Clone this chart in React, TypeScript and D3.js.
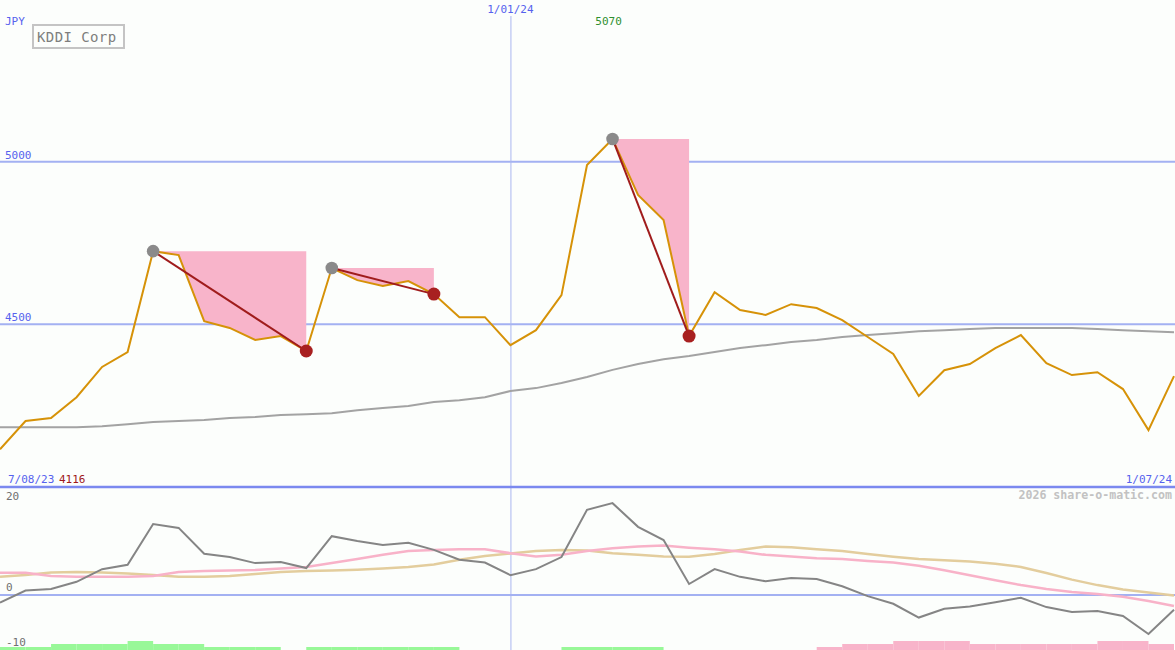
import * as d3 from 'd3'

// weekly closes, KDDI Corp (JPY)
const price = [
  4116, 4203, 4212, 4276, 4369, 4415, 4725, 4713, 4510, 4489, 4452, 4464, 4418, 4673, 4636, 4618,
  4633, 4593, 4522, 4522, 4436, 4482, 4590, 4990, 5070, 4898, 4821, 4464, 4599, 4544, 4529, 4562,
  4550, 4513, 4461, 4409, 4280, 4359, 4378, 4427, 4467, 4381, 4344, 4353, 4301, 4175, 4341,
]
// long moving average
const movingAvg = [
  4184, 4184, 4184, 4184, 4187, 4193, 4200, 4203, 4206, 4212, 4215, 4221, 4224, 4227, 4236, 4243,
  4249, 4261, 4267, 4276, 4295, 4304, 4320, 4338, 4360, 4378, 4393, 4403, 4415, 4427, 4436, 4446,
  4452, 4461, 4467, 4473, 4479, 4482, 4486, 4489, 4489, 4489, 4489, 4486, 4482, 4479, 4476,
]
// lower panel oscillator + two smoothings
const oscillator = [
  -1.4, 0.8, 1.1, 2.4, 4.7, 5.5, 12.9, 12.2, 7.5, 6.9, 5.8, 6.0, 4.9, 10.7, 9.8, 9.1, 9.5, 8.2, 6.4,
  5.9, 3.6, 4.7, 6.9, 15.5, 16.7, 12.4, 10.0, 2.0, 4.7, 3.3, 2.5, 3.1, 2.9, 1.6, -0.2, -1.6, -4.1,
  -2.5, -2.1, -1.3, -0.5, -2.2, -3.1, -2.9, -3.8, -7.1, -2.7,
]
const oscPink = [
  4.05, 4.05, 3.45, 3.3, 3.3, 3.3, 3.45, 4.2, 4.35, 4.45, 4.55, 4.8, 5.1, 5.8, 6.55, 7.3, 8.0, 8.2,
  8.3, 8.3, 7.6, 7.0, 7.3, 8.0, 8.5, 8.8, 9.0, 8.6, 8.3, 7.9, 7.3, 7.0, 6.7, 6.55, 6.2, 5.9, 5.3,
  4.5, 3.6, 2.7, 1.8, 1.1, 0.55, 0.2, -0.3, -1.1, -2.0,
]
const oscTan = [
  3.3, 3.65, 4.1, 4.2, 4.1, 3.9, 3.65, 3.3, 3.3, 3.45, 3.8, 4.2, 4.35, 4.45, 4.6, 4.8, 5.1, 5.55,
  6.4, 7.1, 7.55, 8.0, 8.2, 8.1, 7.6, 7.3, 7.0, 6.95, 7.45, 8.2, 8.8, 8.7, 8.3, 8.0, 7.45, 6.95,
  6.55, 6.3, 6.1, 5.7, 5.1, 4.0, 2.8, 1.8, 1.0, 0.45, -0.1,
]
// signal strip per week interval (+ green, - pink)
const signal = [
  1, 1, 2, 2, 2, 3, 2, 2, 1, 1, 1, 0, 1, 1, 1, 1, 1, 1, 0, 0, 0, 0, 1, 1, 1, 1, 0, 0, 0, 0, 0, 0,
  -1, -2, -2, -3, -3, -3, -2, -2, -2, -2, -2, -3, -3, -2,
]
// drawdowns: peak index -> trough index
const ddPeak = [6, 13, 24]
const ddTrough = [12, 17, 27]

const priceTicks = [5000, 4500]
const oscTicks = [20, 0, -10]
const janIndex = 20
const janLabel = '1/01/24'
const startLabel = '7/08/23'
const endLabel = '1/07/24'

const W = 1175
const H = 650
const BLUE = '#5662ee'
const FONT = 'DejaVu Sans Mono'
const FS = 11

export default function App() {
  const x = d3.scaleLinear().domain([0, price.length - 1]).range([0, 1174])
  const y = d3.scaleLinear().domain([4000, 5000]).range([487, 161.7])
  const yo = d3.scaleLinear().domain([-10, 20]).range([650, 485])
  const ys = d3.scaleLinear().domain([0, 3]).range([650, 641])

  const priceLine = d3.line<number>().x((_, i) => x(i)).y((d) => y(d))
  const oscLine = d3.line<number>().x((_, i) => x(i)).y((d) => yo(d))

  const maxIdx = price.indexOf(d3.max(price)!)
  const minVal = d3.min(price)!

  return (
    <svg width={W} height={H} style={{ position: 'absolute', left: 0, top: 0 }} fontFamily={FONT}>
      <rect width={W} height={H} fill="#fcfefc" />

      {/* grid */}
      {priceTicks.map((t) => (
        <g key={t}>
          <line x1={0} x2={W} y1={y(t)} y2={y(t)} stroke="#a3b1f2" strokeWidth={2} />
          <text x={5} y={y(t) - 3} fontSize={FS} fill={BLUE}>{t}</text>
        </g>
      ))}
      <line x1={x(janIndex) + 0.5} x2={x(janIndex) + 0.5} y1={16} y2={H} stroke="#aab6f0" strokeWidth={1} />

      {/* drawdown shading */}
      {ddPeak.map((p, k) => {
        const idx = d3.range(p, ddTrough[k] + 1)
        const area = d3
          .area<number>()
          .x((i) => x(i))
          .y0(y(price[p]))
          .y1((i) => y(price[i]))
        return <path key={k} d={area(idx)!} fill="#f8b4ca" />
      })}

      <path d={priceLine(movingAvg)!} fill="none" stroke="#a3a3a3" strokeWidth={2} />
      <path d={priceLine(price)!} fill="none" stroke="#d69208" strokeWidth={2} />

      {ddPeak.map((p, k) => {
        const t = ddTrough[k]
        return (
          <g key={k}>
            <line x1={x(p)} y1={y(price[p])} x2={x(t)} y2={y(price[t])} stroke="#a01c1c" strokeWidth={2} />
            <circle cx={x(p)} cy={y(price[p])} r={6.3} fill="#8a8a8a" />
            <circle cx={x(t)} cy={y(price[t])} r={6.5} fill="#a82020" />
          </g>
        )
      })}

      {/* labels */}
      <text x={5} y={25} fontSize={FS} fill={BLUE}>JPY</text>
      <rect x={33} y={25} width={91} height={23} fill="#fcfefc" stroke="#c4c4c4" strokeWidth={2} />
      <text x={37} y={42} fontSize={14} letterSpacing={0.4} fill="#7e7e7e">KDDI Corp</text>
      <text x={x(janIndex)} y={13} fontSize={FS} textAnchor="middle" fill={BLUE}>{janLabel}</text>
      <text x={x(maxIdx) - 4} y={25} fontSize={FS} textAnchor="middle" fill="#2f8f2f">{d3.max(price)}</text>

      <line x1={0} x2={W} y1={487} y2={487} stroke="#7b89ef" strokeWidth={2.5} />
      <text x={8} y={483} fontSize={FS} fill={BLUE}>{startLabel}</text>
      <text x={59} y={483} fontSize={FS} fill="#a01818">{minVal}</text>
      <text x={1172} y={483} fontSize={FS} textAnchor="end" fill={BLUE}>{endLabel}</text>
      <text x={1172} y={499} fontSize={11.6} fontWeight="bold" textAnchor="end" fill="#c2c2c2">
        2026 share-o-matic.com
      </text>

      {/* lower panel */}
      <line x1={0} x2={W} y1={yo(0)} y2={yo(0)} stroke="#a3b1f2" strokeWidth={2} />
      {signal.map((s, i) =>
        s === 0 ? null : (
          <rect
            key={i}
            x={x(i)}
            width={x(i + 1) - x(i)}
            y={ys(Math.abs(s))}
            height={650 - ys(Math.abs(s))}
            fill={s > 0 ? '#98f898' : '#f8b4ca'}
          />
        )
      )}
      <path d={oscLine(oscTan)!} fill="none" stroke="#e3cd9d" strokeWidth={2.5} />
      <path d={oscLine(oscPink)!} fill="none" stroke="#f8b2c8" strokeWidth={2.5} />
      <path d={oscLine(oscillator)!} fill="none" stroke="#858585" strokeWidth={2} />
      {oscTicks.map((t) => (
        <text key={t} x={6} y={t === 20 ? 500 : t === 0 ? 591 : 646} fontSize={FS} fill="#707070">
          {t}
        </text>
      ))}
    </svg>
  )
}
